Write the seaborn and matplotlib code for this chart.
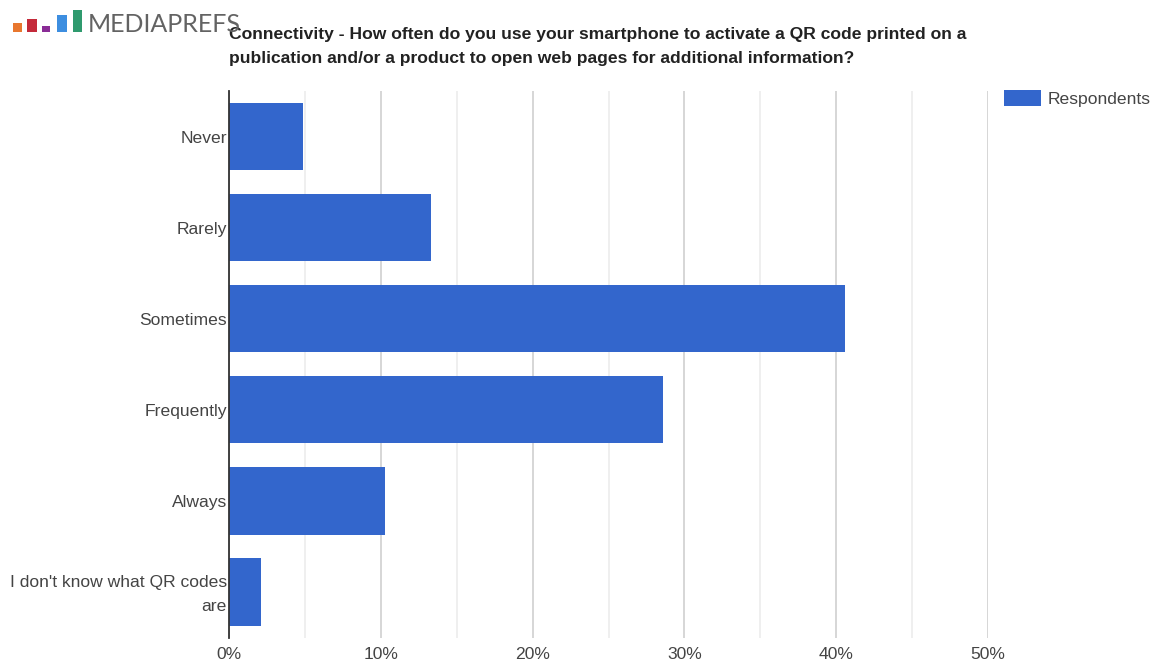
import matplotlib
matplotlib.use("Agg")
import matplotlib.pyplot as plt
from matplotlib.patches import Rectangle
from matplotlib.ticker import MultipleLocator, FuncFormatter
from matplotlib.transforms import ScaledTranslation
import pandas as pd
import seaborn as sns

# Survey answers and share of respondents (%)
answers = ["Never", "Rarely", "Sometimes", "Frequently", "Always",
           "I don't know what QR codes\nare"]
shares = [4.9, 13.3, 40.6, 28.6, 10.3, 2.1]
series_name = "Respondents"
x_ticks = [0, 10, 20, 30, 40, 50]

title = ("Connectivity - How often do you use your smartphone to activate a QR code printed on a\n"
         "publication and/or a product to open web pages for additional information?")

df = pd.DataFrame({"answer": answers, "share": shares, "series": series_name})

sns.set_theme(style="white")
plt.rcParams["font.family"] = ["Liberation Sans", "DejaVu Sans"]

W, H = 1153, 663
fig = plt.figure(figsize=(W / 100, H / 100), dpi=100)
ax = fig.add_axes([229 / W, 1 - 637.5 / H, (988 - 229) / W, (637.5 - 91) / H])

sns.barplot(data=df, x="share", y="answer", hue="series", orient="h",
            palette=["#3366cc"], width=0.74, linewidth=0, saturation=1,
            ax=ax, legend=True)

ax.set_xlim(0, 50)
ax.set_xticks(x_ticks)
ax.xaxis.set_major_formatter(FuncFormatter(lambda v, p: f"{v:.0f}%"))
ax.xaxis.set_minor_locator(MultipleLocator(5))
ax.grid(axis="x", which="major", color="#d0d0d0", linewidth=1.2)
ax.grid(axis="x", which="minor", color="#ececec", linewidth=1.2)
ax.set_axisbelow(True)
ax.set_xlabel("")
ax.set_ylabel("")
for side in ["top", "right", "bottom"]:
    ax.spines[side].set_visible(False)
ax.spines["left"].set_color("#333333")
ax.spines["left"].set_linewidth(1.3)
ax.spines["left"].set_zorder(5)
ax.tick_params(axis="x", length=0, pad=6.5, labelsize=12.6, labelcolor="#444444")
ax.tick_params(axis="y", length=0, pad=1.5, labelsize=12.6, labelcolor="#444444")
for lab in ax.get_yticklabels():
    lab.set_horizontalalignment("right")
    lab.set_multialignment("right")
    lab.set_linespacing(1.7)
    if "\n" in lab.get_text():
        # nudge the wrapped label so both lines sit around the bar centre
        lab.set_transform(lab.get_transform() + ScaledTranslation(0, 3 / 100, fig.dpi_scale_trans))

# Legend at the top right, outside the plot area
handles, labels = ax.get_legend_handles_labels()
ax.legend(handles, labels, loc="upper left", bbox_to_anchor=(1004 / W, 1 - 90 / H),
          bbox_transform=fig.transFigure, frameon=False, fontsize=12.6,
          handlelength=2.1, handleheight=1.0, handletextpad=0.4, borderpad=0,
          borderaxespad=0, labelcolor="#444444")

# Title
fig.text(229 / W, 1 - 27 / H, title, ha="left", va="top", fontsize=12.6,
         fontweight="bold", color="#222222", linespacing=1.77)

# Brand mark: small coloured blocks and wordmark
blocks = [(13, 23, 9, "#e8772e"), (27, 19, 10, "#c42a3a"), (42, 26, 8, "#8a2c96"),
          (57, 15, 10, "#3d8ee0"), (73, 10, 9, "#2f9a6e")]
for x0, top, w, c in blocks:
    fig.add_artist(Rectangle((x0 / W, 1 - 32 / H), w / W, (32 - top) / H,
                             transform=fig.transFigure, color=c, linewidth=0))
fig.text(88 / W, 1 - 32.5 / H, "MEDIAPREFS", ha="left", va="baseline",
         fontsize=18, color="#636363", family="Lato", fontweight="normal")

fig.savefig("out.png", dpi=100, facecolor="white")
